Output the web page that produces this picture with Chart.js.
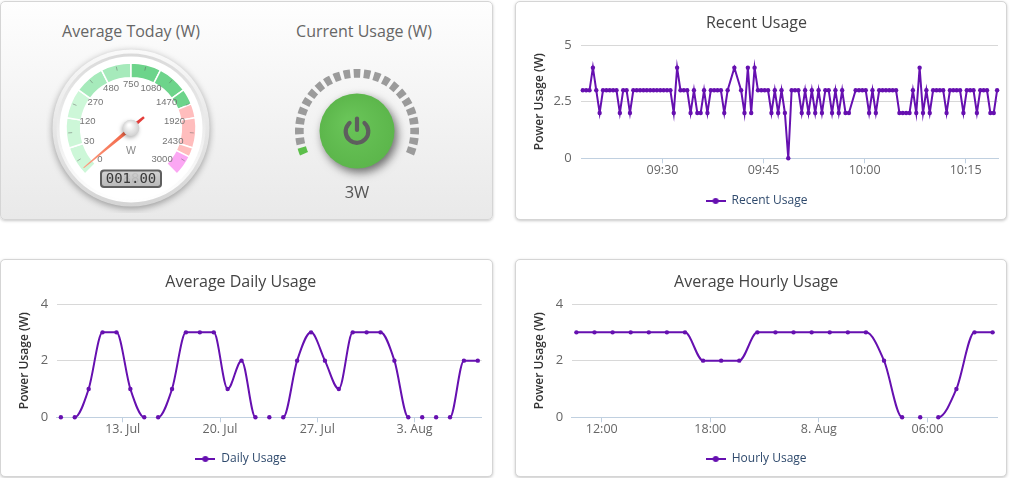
<!DOCTYPE html>
<html>
<head>
<meta charset="utf-8">
<title>Power Usage</title>
<script src="https://cdn.jsdelivr.net/npm/chart.js@4.4.1/dist/chart.umd.min.js"></script>
<style>
  html, body { margin: 0; padding: 0; background: #fff; }
  body { width: 1010px; height: 478px; position: relative; overflow: hidden; font-family: 'Open Sans', sans-serif; }
  .panel { position: absolute; box-sizing: border-box; border: 1px solid #d5d5d5; border-radius: 5px; background: #fff; box-shadow: 0 1px 3px rgba(0,0,0,0.22); }
  .gauges { background: linear-gradient(#fefefe, #e9e9e9); }
  .box { position: absolute; }
  .gtitle { position: absolute; text-align: center; font-size: 16px; line-height: 20px; color: #666; }
</style>
</head>
<body>
<div class="panel gauges" style="left:0;top:1px;width:493px;height:219px"></div>
<div class="panel" style="left:515px;top:1px;width:492px;height:219px"></div>
<div class="panel" style="left:0;top:259px;width:493px;height:218px"></div>
<div class="panel" style="left:515px;top:259px;width:492px;height:218px"></div>

<div class="gtitle" style="left:0;top:21px;width:262px">Average Today (W)</div>
<div class="gtitle" style="left:244px;top:21px;width:240px">Current Usage (W)</div>

<div class="box" style="left:46px;top:43px;width:170px;height:170px"><canvas id="avgGauge"></canvas></div>
<div class="box" style="left:272px;top:46px;width:170px;height:170px"><canvas id="currentGauge"></canvas></div>
<div class="box" style="left:515px;top:1px;width:492px;height:219px"><canvas id="recentChart"></canvas></div>
<div class="box" style="left:0;top:259px;width:493px;height:218px"><canvas id="dailyChart"></canvas></div>
<div class="box" style="left:515px;top:259px;width:492px;height:218px"><canvas id="hourlyChart"></canvas></div>

<script>
const PURPLE = '#6610b0';

// Average today gauge
const averageToday = 1;
const gaugeUnit = 'W';
const gaugeTicks = [0, 30, 120, 270, 480, 750, 1080, 1470, 1920, 2430, 3000];
const gaugeBandEdges = [0, 270, 750, 1700, 2600, 3000];
const gaugeBandColors = ['#cdf7d8', '#a6eabb', '#6dd48b', '#ffbdbd', '#fba7f3'];

// Current usage ring
const currentUsage = 3;
const currentMax = 3000;
const ringSegments = 23;

// Recent usage, one reading every 30 s
const recentStart = '09:18:10';
const recentStepSeconds = 30;
const recentValues = [
  3, 3, 3, 4, 3, 2, 3, 3, 3, 3,
  3, 2, 3, 3, 2, 3, 3, 3, 3, 3,
  3, 3, 3, 3, 3, 3, 3, 2, 4, 3,
  3, 3, 2, 3, 2, 2, 3, 2, 3, 3,
  3, 3, 2, 3, null, 4, null, 3, 2, 4,
  2, 4, 3, 3, 3, 3, 2, 3, 2, 3,
  2, 0, 3, 3, 3, 2, 3, 2, 3, 2,
  3, 2, 3, 3, 2, 3, 2, 3, 2, 2,
  null, 3, 3, 3, 3, 2, 3, 2, 3, 3,
  3, 3, 3, 3, 2, 2, 2, 2, 3, 2,
  4, 2, 3, 2, 3, 3, 3, 3, 2, 3,
  3, 3, 3, 2, 3, 3, 3, 2, 3, 3,
  3, 2, 2, 3
];
const recentTickLabels = ['09:30', '09:45', '10:00', '10:15'];

// Average daily usage, x = day counted from 1 Jul (= 1)
const dailyDays = [8.55, 9.55, 10.55, 11.55, 12.55, 13.55, 14.55, 15.55, 16.55, 17.55,
  18.55, 19.55, 20.55, 21.55, 22.55, 23.55, 24.55, 25.55, 26.55, 27.55,
  28.55, 29.55, 30.55, 31.55, 32.55, 33.55, 34.55, 35.55, 36.55, 37.55, 38.55];
const dailyValues = [0, 0, 1, 3, 3, 1, 0, 0, 1, 3, 3, 3, 1, 2, 0, 0, 0, 2, 3, 2, 1, 3, 3, 3, 2, 0, 0, 0, 0, 2, 2];
const dailyTickDays = [13, 20, 27, 34];
const dailyTickLabels = ['13. Jul', '20. Jul', '27. Jul', '3. Aug'];

// Average hourly usage, x = hours from 7 Aug 00:00
const hourlyHours = [10.6, 11.6, 12.6, 13.6, 14.6, 15.6, 16.6, 17.6, 18.6, 19.6, 20.6, 21.6,
  22.6, 23.6, 24.6, 25.6, 26.6, 27.6, 28.6, 29.6, 30.6, 31.6, 32.6, 33.6];
const hourlyValues = [3, 3, 3, 3, 3, 3, 3, 2, 2, 2, 3, 3, 3, 3, 3, 3, 3, 2, 0, 0, 0, 1, 3, 3];
const hourlyTickHours = [12, 18, 24, 30];
const hourlyTickLabels = ['12:00', '18:00', '8. Aug', '06:00'];

Chart.defaults.font.family = "'Open Sans', sans-serif";
Chart.defaults.color = '#666';

function toMinutes(t) {
  const p = t.split(':').map(Number);
  return p[0] * 60 + p[1] + (p[2] || 0) / 60;
}

// the gauge axis is square-root: 0..3000 W maps to 0..10 divisions of 27 degrees
function toN(v) { return Math.sqrt(v / 30); }
function gaugeAngle(v) { return (-135 + 27 * toN(v)) * Math.PI / 180; }

function chartCenter(chart) {
  const a = chart.chartArea;
  return { x: (a.left + a.right) / 2, y: (a.top + a.bottom) / 2 };
}

function gaugeSegments() {
  const cuts = [...new Set([...gaugeTicks, ...gaugeBandEdges])].sort((a, b) => a - b);
  const sizes = [], colors = [];
  for (let i = 1; i < cuts.length; i++) {
    const mid = (cuts[i - 1] + cuts[i]) / 2;
    const band = gaugeBandEdges.findIndex((e, j) => j > 0 && mid <= e) - 1;
    sizes.push(toN(cuts[i]) - toN(cuts[i - 1]));
    colors.push(gaugeBandColors[band]);
  }
  sizes.push(10 / 3);            // the open quarter at the bottom
  colors.push('rgba(0,0,0,0)');
  return { sizes, colors };
}

const gaugeFace = {
  id: 'gaugeFace',
  beforeDatasetsDraw(chart) {
    const ctx = chart.ctx, c = chartCenter(chart);
    ctx.save();
    ctx.shadowColor = 'rgba(0,0,0,0.35)';
    ctx.shadowBlur = 7;
    ctx.shadowOffsetY = 2;
    let g = ctx.createLinearGradient(0, c.y - 79, 0, c.y + 79);
    g.addColorStop(0, '#fafafa');
    g.addColorStop(1, '#d4d4d4');
    ctx.fillStyle = g;
    ctx.beginPath(); ctx.arc(c.x, c.y, 78.5, 0, Math.PI * 2); ctx.fill();
    ctx.shadowColor = 'rgba(0,0,0,0)';
    g = ctx.createLinearGradient(0, c.y - 75, 0, c.y + 75);
    g.addColorStop(0, '#dadada');
    g.addColorStop(1, '#ffffff');
    ctx.fillStyle = g;
    ctx.beginPath(); ctx.arc(c.x, c.y, 74.5, 0, Math.PI * 2); ctx.fill();
    ctx.fillStyle = '#fff';
    ctx.beginPath(); ctx.arc(c.x, c.y, 71.5, 0, Math.PI * 2); ctx.fill();
    ctx.restore();
  },
  afterDatasetsDraw(chart) {
    const ctx = chart.ctx, c = chartCenter(chart);
    ctx.save();
    ctx.translate(c.x, c.y);

    // minor ticks between the labels
    ctx.strokeStyle = 'rgba(90,90,90,0.45)';
    ctx.lineWidth = 1;
    for (let i = 1; i < gaugeTicks.length; i++) {
      const a = (-135 + 27 * (toN(gaugeTicks[i - 1]) + toN(gaugeTicks[i])) / 2) * Math.PI / 180;
      ctx.beginPath();
      ctx.moveTo(Math.sin(a) * 59, -Math.cos(a) * 59);
      ctx.lineTo(Math.sin(a) * 63, -Math.cos(a) * 63);
      ctx.stroke();
    }

    ctx.fillStyle = '#747474';
    ctx.font = "9.5px 'Liberation Sans', sans-serif";
    ctx.textAlign = 'center';
    ctx.textBaseline = 'middle';
    gaugeTicks.forEach(v => {
      const a = gaugeAngle(v);
      ctx.fillText(String(v), Math.sin(a) * 44, -Math.cos(a) * 44);
    });
    ctx.font = "10.5px 'Liberation Sans', sans-serif";
    ctx.fillStyle = '#8a8a8a';
    ctx.fillText(gaugeUnit, 0, 23);

    // LCD read-out
    ctx.fillStyle = '#5f5f5f';
    ctx.beginPath(); ctx.roundRect(-31, 41.5, 62, 18.5, 4); ctx.fill();
    let g = ctx.createLinearGradient(0, 43.5, 0, 58);
    g.addColorStop(0, '#d2d2d2');
    g.addColorStop(1, '#b9b9b9');
    ctx.fillStyle = g;
    ctx.beginPath(); ctx.roundRect(-29, 43.5, 58, 14.5, 2.5); ctx.fill();
    ctx.font = "14px 'DejaVu Sans Mono', monospace";
    ctx.fillStyle = 'rgba(0,0,0,0.07)';
    ctx.fillText('888888', 0, 51);
    ctx.fillStyle = '#3a3a3a';
    ctx.fillText(averageToday.toFixed(2).padStart(6, '0'), 0, 51);

    // needle
    ctx.save();
    ctx.rotate(gaugeAngle(averageToday));
    g = ctx.createLinearGradient(0, 0, 0, -62);
    g.addColorStop(0, '#ef5d3e');
    g.addColorStop(1, '#ffa083');
    ctx.fillStyle = g;
    ctx.beginPath();
    ctx.moveTo(-2, 0); ctx.lineTo(-0.5, -62); ctx.lineTo(0.5, -62); ctx.lineTo(2, 0);
    ctx.closePath(); ctx.fill();
    ctx.fillStyle = '#e43d3a';
    ctx.beginPath();
    ctx.moveTo(-1.8, 0); ctx.lineTo(-1.2, 17); ctx.lineTo(1.2, 17); ctx.lineTo(1.8, 0);
    ctx.closePath(); ctx.fill();
    ctx.restore();

    // cap
    ctx.shadowColor = 'rgba(0,0,0,0.3)';
    ctx.shadowBlur = 4;
    ctx.shadowOffsetX = -1;
    ctx.shadowOffsetY = 2;
    g = ctx.createRadialGradient(-2, -3, 1, 0, 0, 9);
    g.addColorStop(0, '#ffffff');
    g.addColorStop(1, '#cdcdcd');
    ctx.fillStyle = g;
    ctx.beginPath(); ctx.arc(0, 0, 8.3, 0, Math.PI * 2); ctx.fill();
    ctx.restore();
  }
};

const powerButton = {
  id: 'powerButton',
  afterDatasetsDraw(chart) {
    const ctx = chart.ctx, c = chartCenter(chart);
    ctx.save();
    ctx.shadowColor = 'rgba(0,0,0,0.55)';
    ctx.shadowBlur = 10;
    ctx.shadowOffsetX = 3;
    ctx.shadowOffsetY = 4;
    const g = ctx.createRadialGradient(c.x - 8, c.y - 10, 4, c.x, c.y, 38);
    g.addColorStop(0, '#69c458');
    g.addColorStop(1, '#5cb64b');
    ctx.fillStyle = g;
    ctx.beginPath(); ctx.arc(c.x, c.y, 37.5, 0, Math.PI * 2); ctx.fill();
    ctx.restore();

    ctx.save();
    ctx.strokeStyle = '#5e5e5e';
    ctx.lineWidth = 4.2;
    ctx.lineCap = 'round';
    ctx.beginPath();
    ctx.arc(c.x, c.y + 0.5, 11.3, -Math.PI / 2 + 0.72, 1.5 * Math.PI - 0.72);
    ctx.stroke();
    ctx.beginPath();
    ctx.moveTo(c.x, c.y - 12.5); ctx.lineTo(c.x, c.y - 1);
    ctx.stroke();
    ctx.fillStyle = '#555';
    ctx.font = "16.5px 'Open Sans', sans-serif";
    ctx.textAlign = 'center';
    ctx.textBaseline = 'middle';
    ctx.fillText(currentUsage + 'W', c.x, c.y + 62.5);
    ctx.restore();
  }
};

const seg = gaugeSegments();
new Chart(document.getElementById('avgGauge'), {
  type: 'doughnut',
  data: {
    datasets: [{
      data: seg.sizes,
      backgroundColor: seg.colors,
      borderColor: '#fff',
      borderWidth: ctx => ctx.dataIndex === seg.sizes.length - 1 ? 0 : 1.5
    }]
  },
  options: {
    responsive: true, maintainAspectRatio: false, animation: false, events: [],
    rotation: -135, radius: 65, cutout: '77.5%',
    plugins: { legend: { display: false }, tooltip: { enabled: false } }
  },
  plugins: [gaugeFace]
});

// ring: 23 blocks of 6.5 degrees with 3.5 degree gaps, lit blocks in green
const lit = Math.max(1, Math.ceil(currentUsage / currentMax * ringSegments));
const ringData = [], ringColors = [];
for (let i = 0; i < ringSegments; i++) {
  ringData.push(6.5, 3.5);
  ringColors.push(i < lit ? '#5cbf4a' : '#9b9b9b', 'rgba(0,0,0,0)');
}
ringData.push(360 - ringSegments * 10);
ringColors.push('rgba(0,0,0,0)');

new Chart(document.getElementById('currentGauge'), {
  type: 'doughnut',
  data: { datasets: [{ data: ringData, backgroundColor: ringColors, borderWidth: 0 }] },
  options: {
    responsive: true, maintainAspectRatio: false, animation: false, events: [],
    rotation: -ringSegments * 5 + 1.75, radius: 62, cutout: '86%',
    plugins: { legend: { display: false }, tooltip: { enabled: false } }
  },
  plugins: [powerButton]
});

function legendSymbol() {
  const c = document.createElement('canvas');
  c.width = 20; c.height = 8;
  const x = c.getContext('2d');
  x.strokeStyle = PURPLE; x.lineWidth = 2;
  x.beginPath(); x.moveTo(0, 4); x.lineTo(20, 4); x.stroke();
  x.fillStyle = PURPLE;
  x.beginPath(); x.arc(10, 4, 3, 0, Math.PI * 2); x.fill();
  return c;
}
const symbol = legendSymbol();

function usageChart(id, o) {
  return new Chart(document.getElementById(id), {
    type: 'line',
    data: {
      datasets: [{
        label: o.label,
        data: o.xs.map((x, i) => ({ x: x, y: o.ys[i] })),
        borderColor: PURPLE,
        backgroundColor: PURPLE,
        borderWidth: 2,
        pointRadius: 2.2,
        pointBorderWidth: 0,
        pointBackgroundColor: PURPLE,
        tension: o.smooth ? 0.4 : 0,
        cubicInterpolationMode: o.smooth ? 'monotone' : 'default',
        spanGaps: true,
        clip: 6,
        segment: {
          borderColor: c => (c.p0.parsed.y === 0 && c.p1.parsed.y === 0) ? 'rgba(0,0,0,0)' : undefined
        }
      }]
    },
    options: {
      responsive: true, maintainAspectRatio: false, animation: false, events: [],
      layout: { padding: { left: 0, right: o.padRight, top: 0, bottom: o.padBottom } },
      scales: {
        x: {
          type: 'linear', min: o.xMin, max: o.xMax,
          afterBuildTicks: ax => { ax.ticks = o.xTicks.map(v => ({ value: v })); },
          afterFit: s => { s.height = o.xHeight; },
          ticks: {
            autoSkip: false, maxRotation: 0, padding: 0, color: '#666', font: { size: 12.5 },
            callback: v => o.xLabels[o.xTicks.indexOf(v)]
          },
          grid: { drawOnChartArea: false, color: '#c0d0e0', tickLength: 5 },
          border: { color: '#c0d0e0' }
        },
        y: {
          min: 0, max: o.yTicks[o.yTicks.length - 1],
          afterBuildTicks: ax => { ax.ticks = o.yTicks.map(v => ({ value: v })); },
          afterFit: s => { s.width = o.yWidth; },
          ticks: { padding: o.yLabelPad, color: '#666', font: { size: 13 } },
          grid: { drawTicks: false, color: c => (c.tick && c.tick.value === 0) ? 'rgba(0,0,0,0)' : '#d8d8d8' },
          border: { display: false },
          title: {
            display: true, text: 'Power Usage (W)', color: '#333',
            font: { size: 12, weight: '600' }, padding: { top: o.yTitlePad, bottom: 0 }
          }
        }
      },
      plugins: {
        title: {
          display: true, text: o.title, color: '#444',
          font: { size: 16, weight: 'normal' }, padding: { top: o.titleTop, bottom: o.titleBottom }
        },
        legend: {
          position: 'bottom',
          labels: { usePointStyle: true, pointStyle: symbol, pointStyleWidth: 20, padding: 10, color: '#2f4a6d', font: { size: 12 } }
        },
        tooltip: { enabled: false }
      }
    }
  });
}

const recentStartMin = toMinutes(recentStart);
usageChart('recentChart', {
  title: 'Recent Usage', label: 'Recent Usage', smooth: false,
  xs: recentValues.map((v, i) => recentStartMin + i * recentStepSeconds / 60),
  ys: recentValues,
  xMin: 557.9, xMax: 619.8,
  xTicks: recentTickLabels.map(toMinutes), xLabels: recentTickLabels,
  yTicks: [0, 2.5, 5],
  yWidth: 66, yLabelPad: 9.3, yTitlePad: 17.8,
  padRight: 9, padBottom: 3, xHeight: 26.7,
  titleTop: 12.5, titleBottom: 12.3
});

usageChart('dailyChart', {
  title: 'Average Daily Usage', label: 'Daily Usage', smooth: true,
  xs: dailyDays, ys: dailyValues,
  xMin: 8.25, xMax: 38.83,
  xTicks: dailyTickDays, xLabels: dailyTickLabels,
  yTicks: [0, 2, 4],
  yWidth: 56.7, yLabelPad: 8.4, yTitlePad: 17,
  padRight: 11.3, padBottom: 2, xHeight: 25.7,
  titleTop: 13.5, titleBottom: 12.3
});

usageChart('hourlyChart', {
  title: 'Average Hourly Usage', label: 'Hourly Usage', smooth: true,
  xs: hourlyHours, ys: hourlyValues,
  xMin: 10.34, xMax: 33.86,
  xTicks: hourlyTickHours, xLabels: hourlyTickLabels,
  yTicks: [0, 2, 4],
  yWidth: 56.7, yLabelPad: 8.4, yTitlePad: 17,
  padRight: 9.7, padBottom: 2, xHeight: 25.7,
  titleTop: 13.5, titleBottom: 12.3
});
</script>
</body>
</html>
